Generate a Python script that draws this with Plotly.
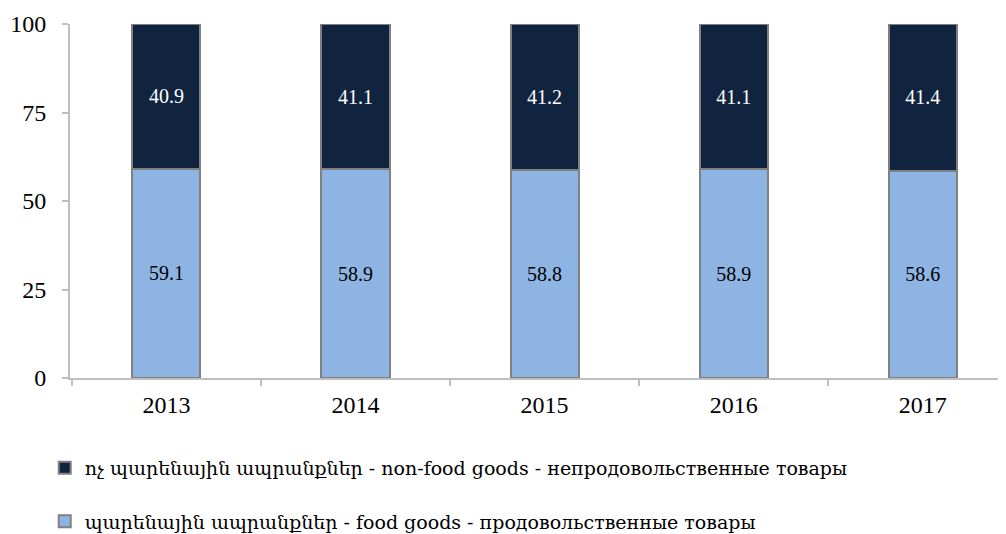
import plotly.graph_objects as go

years = ["2013", "2014", "2015", "2016", "2017"]
food = [59.1, 58.9, 58.8, 58.9, 58.6]
non_food = [40.9, 41.1, 41.2, 41.1, 41.4]

name_food = "պարենային ապրանքներ - food goods - продовольственные товары"
name_non = "ոչ պարենային ապրանքներ - non-food goods - непродовольственные товары"

font_fam = "Liberation Serif"
legend_fam = "DejaVu Serif"

fig = go.Figure()
fig.add_trace(go.Bar(
    x=years, y=food, name=name_food, width=0.36,
    marker=dict(color="#8eb4e3", line=dict(color="#808080", width=2)),
    text=[f"{v:.1f}" for v in food], textposition="inside", insidetextanchor="middle",
    textfont=dict(color="#000000", size=20, family=font_fam),
    legendgroup="b", legendrank=2,
))
fig.add_trace(go.Bar(
    x=years, y=non_food, name=name_non, width=0.36,
    marker=dict(color="#10243f", line=dict(color="#808080", width=2)),
    text=[f"{v:.1f}" for v in non_food], textposition="inside", insidetextanchor="middle",
    textfont=dict(color="#ffffff", size=20, family=font_fam),
    legendgroup="a", legendrank=1,
))

fig.update_layout(
    barmode="stack",
    width=998, height=526,
    margin=dict(l=62, r=0, t=16, b=156, autoexpand=False),
    paper_bgcolor="white", plot_bgcolor="white",
    font=dict(family=font_fam, color="#000000"),
    showlegend=True,
    legend=dict(
        orientation="v", x=-0.027, xanchor="left", y=-0.2, yanchor="top",
        font=dict(size=19, family=legend_fam), tracegroupgap=26,
        itemwidth=30,
    ),
    uniformtext=dict(mode="show", minsize=12),
)
fig.update_xaxes(
    type="category", range=[-0.51, 4.44], automargin=False,
    showline=True, linecolor="#bfbfbf", linewidth=2,
    ticks="outside", tickson="boundaries", ticklen=6, tickcolor="#bfbfbf", tickwidth=2,
    tickfont=dict(size=24, family=font_fam), ticklabelstandoff=4,
    showgrid=False,
)
fig.update_yaxes(
    range=[0, 100], tickvals=[0, 25, 50, 75, 100], automargin=False,
    showline=True, linecolor="#bfbfbf", linewidth=2,
    ticks="outside", ticklen=6, tickcolor="#bfbfbf", tickwidth=2,
    tickfont=dict(size=24, family=font_fam), ticklabelstandoff=11,
    showgrid=False, zeroline=False,
)

fig.write_html("out.html")
